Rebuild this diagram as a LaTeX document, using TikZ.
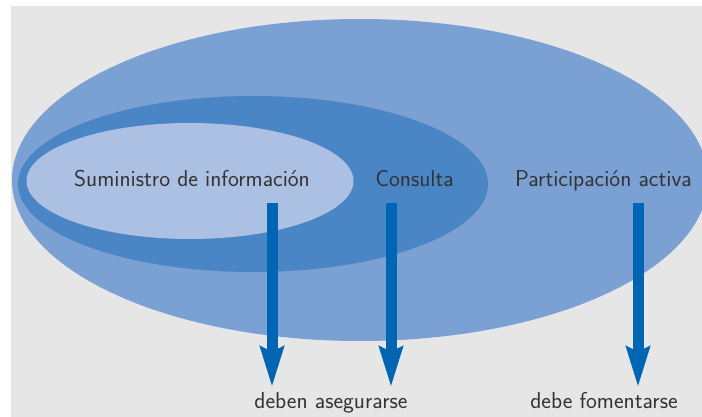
\documentclass[tikz,border=0pt]{standalone}
\usepackage{tikz}
\usetikzlibrary{positioning,
        shapes.geometric,
        arrows.meta}
\usepackage{xcolor}
\definecolor{fondo}{HTML}{E6E6E6}
\definecolor{azulclaro}{HTML}{ABC0E2}
\definecolor{azulmedio}{HTML}{4A86C5}
\definecolor{azulfondo}{HTML}{7BA0D3}
\definecolor{azulflecha}{HTML}{0066B3}
\definecolor{texto}{HTML}{333333}

\begin{document}
\begin{tikzpicture}[x=1pt,y=-1pt,
        lbl/.style={anchor=base,inner sep=0pt,text=texto,font=\sffamily\fontsize{23}{26}\selectfont},
        flecha/.style={-{Stealth[length=40pt,width=23pt,inset=5pt]},line width=11pt,draw=azulflecha,fill=azulflecha}]
            \useasboundingbox (0,0) rectangle (702,417);
            \clip (0,0) rectangle (702,417);
            \fill [white] (0,0) rectangle (702,417);
            \fill [fondo] (11,6) rectangle (702,417);

            \node [ellipse,fill=azulfondo,minimum width=696pt,minimum height=322pt,inner sep=0pt] (activa) at (360,180) {};
            \node [ellipse,fill=azulmedio,minimum width=470pt,minimum height=176pt,inner sep=0pt] (consulta) at (253,184) {};
            \node [ellipse,fill=azulclaro,minimum width=327pt,minimum height=116pt,inner sep=0pt] (info) at (190,181) {};

            \node [lbl] (tinfo) at (192,186) {Suministro de información};
            \node [lbl] (tconsulta) at (414.5,186) {Consulta};
            \node [lbl] (tactiva) at (603.5,186) {Participación activa};
            \node [lbl] (asegurar) at (331,408) {deben asegurarse};
            \node [lbl] (fomentar) at (604,408) {debe fomentarse};

            \coordinate (s1) at (272,203);
            \coordinate (e1) at (272,387);
            \coordinate (s2) at (391,203);
            \coordinate (e2) at (391,387);
            \coordinate (s3) at (638,203);
            \coordinate (e3) at (638,387);

            \draw [flecha] (s1) -- (e1);
            \draw [flecha] (s2) -- (e2);
            \draw [flecha] (s3) -- (e3);
        \end{tikzpicture}
\end{document}
